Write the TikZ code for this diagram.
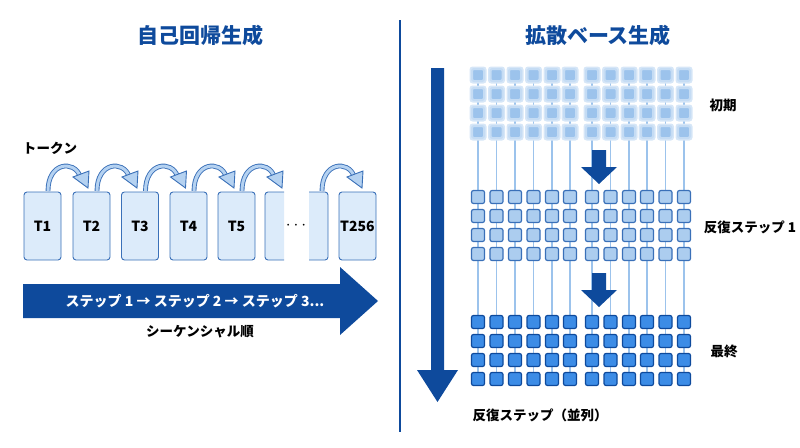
\documentclass[tikz,border=0pt]{standalone}
\usepackage{fontspec}
\setmainfont{Noto Sans CJK JP}
\usetikzlibrary{arrows.meta}
\definecolor{dk}{HTML}{0E4A9C}
\definecolor{lb}{HTML}{DCEBFA}
\definecolor{mb}{HTML}{5A9BE0}
\definecolor{edge}{HTML}{3A70B8}
\definecolor{sq}{HTML}{3C8CE6}
\begin{document}
\begin{tikzpicture}[x=1pt,y=-1pt,
  title/.style={font=\bfseries\fontsize{21}{24}\selectfont,text=dk},
  lab/.style={font=\bfseries\fontsize{13.5}{16}\selectfont,text=black},
  tok/.style={draw=edge,fill=lb,line width=0.9pt,rounded corners=3pt,minimum width=37pt,minimum height=68pt,inner sep=0pt,font=\bfseries\fontsize{14}{16}\selectfont},
  arc/.style={draw=edge,double=mb!45,double distance=3pt,line width=0.9pt},
  sqa/.style={fill=mb!60,draw=mb!35,line width=2pt,rounded corners=2pt},
  sqb/.style={fill=mb!50,draw=edge,line width=1.2pt,rounded corners=2pt},
  sqc/.style={fill=sq,draw=dk,line width=1.2pt,rounded corners=2pt},
  vl/.style={draw=mb!60,line width=1.3pt}]
\useasboundingbox (0,0) rectangle (800,447);
\node[title] (t1) at (200,35) {自己回帰生成};
\node[title] (t2) at (598,35) {拡散ベース生成};
\draw[line width=1.2pt,dk] (400,20) coordinate (d1) -- (400,432) coordinate (d2);
\node[lab] (tk) at (50,148) {トークン};
% tokens
\foreach \n/\x/\t in {1/42.5/T1,2/91.5/T2,3/140/T3,4/188.5/T4,5/236.5/T5,9/357.5/T256}
  \node[tok] (b\n) at (\x,226) {\t};
\path[draw=edge,fill=lb,line width=0.9pt] (284,260) -- (269,260) coordinate (p1) [rounded corners=3pt] -- (265,260) -- (265,192) -- (284,192);
\path[draw=edge,fill=lb,line width=0.9pt] (309,192) -- (324,192) [rounded corners=3pt] -- (328,192) -- (328,260) -- (309,260);
\node[font=\bfseries\fontsize{16}{18}\selectfont] (dots) at (296,226) {$\cdots$};
\foreach \a in {0,49,97.5,146,194,274}{
  \draw[arc] (48+\a,191) .. controls (48+\a,162) and (74+\a,160) .. (80+\a,176);
  \fill[mb!45,draw=edge,line width=0.9pt] (73+\a,177) -- (89+\a,171) -- (88+\a,188) -- cycle;
}
% big right arrow
\path[fill=dk] (23,284) -- (340,284) -- (340,267) -- (378,301) -- (340,335) -- (340,318) -- (23,318) -- cycle;
\node[font=\bfseries\fontsize{14}{16}\selectfont,text=white] (st) at (195,301) {ステップ 1 → ステップ 2 → ステップ 3...};
\node[lab] (sq) at (200,332) {シーケンシャル順};
% big down arrow
\path[fill=dk] (431,68) -- (444,68) -- (444,370) -- (458,370) -- (437.5,402) -- (417,370) -- (431,370) -- cycle;
% grid
\def\cols{478,496.5,515,533.5,552,570,592,610.5,629,647,665.5,684}
\foreach \x in \cols \draw[vl] (\x,75) -- (\x,378);
\foreach \y in {75,94,113,132} \foreach \x in \cols {
  \fill[mb!25,rounded corners=3pt] (\x-8.5,\y-8.5) rectangle (\x+8.5,\y+8.5);
  \draw[sqa] (\x-6,\y-6) rectangle (\x+6,\y+6);}
\foreach \y in {197,216,235,254} \foreach \x in \cols \draw[sqb] (\x-6.5,\y-6.5) rectangle (\x+6.5,\y+6.5);
\foreach \y in {322,341,360,379} \foreach \x in \cols \draw[sqc] (\x-6.5,\y-6.5) rectangle (\x+6.5,\y+6.5);
\foreach \y in {150,273}
  \path[fill=dk] (592,\y) -- (606,\y) -- (606,\y+17) -- (617,\y+17) -- (599,\y+34) -- (581,\y+17) -- (592,\y+17) -- cycle;
\node[lab] (l1) at (723,105) {初期};
\node[lab] (l2) at (750,227) {反復ステップ 1};
\node[lab] (l3) at (724,351) {最終};
\node[lab] (l4) at (540,415) {反復ステップ（並列）};
\end{tikzpicture}
\end{document}
